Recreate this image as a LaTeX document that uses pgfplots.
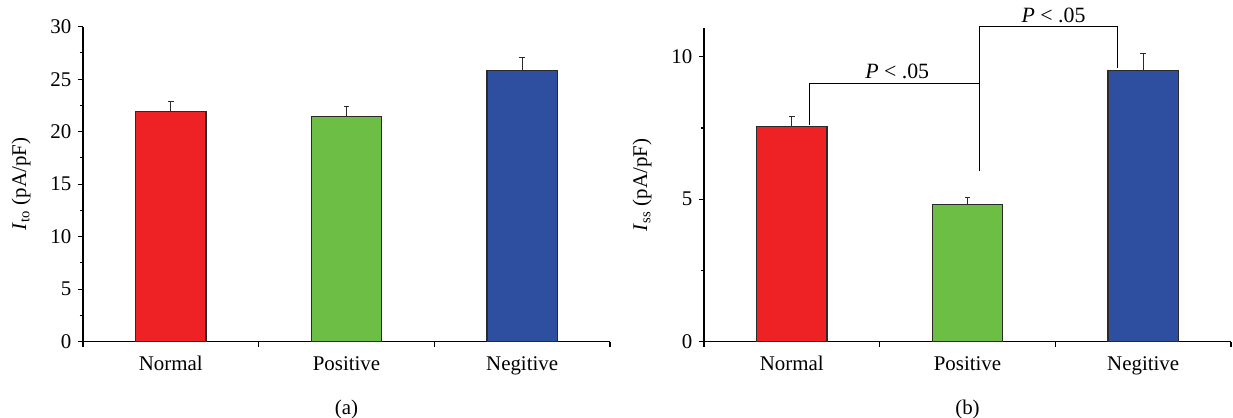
\documentclass[border=0pt]{standalone}
\usepackage{pgfplots}
\pgfplotsset{compat=1.18}
\usepackage{fontspec}
\setmainfont{Liberation Serif}
\definecolor{cred}{HTML}{EE2224}
\definecolor{cgreen}{HTML}{6DBE45}
\definecolor{cblue}{HTML}{2E4E9F}
\definecolor{cedge}{HTML}{2A2A2A}
\pgfplotsset{
  mybar/.style={
    scale only axis,
    width=289.85pt,
    axis x line*=bottom,
    axis y line*=left,
    axis line style={line width=0.7pt,black},
    tick style={line width=0.6pt,black},
    tick align=outside,
    major tick length=2.9pt,
    minor tick length=1.8pt,
    xmin=-0.5,xmax=2.5,
    xtick={-0.5,0.5,1.5,2.5},
    xticklabels={},
    extra x ticks={0,1,2},
    extra x tick labels={Normal,Positive,Negitive},
    extra x tick style={major tick length=0pt, tick style={draw=none}},
    x tick label style={yshift=-4.5pt},
    ymin=0,
    minor y tick num=1,
    /pgf/number format/assume math mode=true,
    tick label style={font=\fontsize{11.5}{13}\selectfont},
    label style={font=\fontsize{11.5}{13}\selectfont},
    xlabel style={yshift=-4pt},
    ylabel style={yshift=4pt},
    every axis plot/.append style={ybar, bar width=0.40, draw=cedge, line width=0.6pt},
    error bars/y dir=plus,
    error bars/y explicit,
    error bars/error bar style={line width=0.6pt, cedge},
    error bars/error mark options={line width=0.6pt, cedge, mark size=1.5pt, rotate=90},
    clip=false,
  }
}
\begin{document}
\begin{tikzpicture}
\useasboundingbox (-45.65pt,-41.965pt) rectangle (632.5pt,187.935pt);
% panel a
\begin{axis}[mybar,
  height=173.25pt,
  ymax=30,
  ytick={0,5,10,15,20,25,30},
  ylabel={\textit{I}\textsubscript{to} (pA/pF)},
  xlabel={(a)},
]
\addplot[fill=cred] coordinates {(0,21.96) +- (0,0.92)};
\addplot[fill=cgreen] coordinates {(1,21.45) +- (0,0.98)};
\addplot[fill=cblue] coordinates {(2,25.85) +- (0,1.19)};
\end{axis}
% panel b
\begin{axis}[mybar,
  at={(341.55pt,0pt)},
  height=172.37pt,
  ymax=11,
  ytick={0,5,10},
  ylabel={\textit{I}\textsubscript{ss} (pA/pF)},
  xlabel={(b)},
]
\addplot[fill=cred] coordinates {(0,7.54) +- (0,0.36)};
\addplot[fill=cgreen] coordinates {(1,4.80) +- (0,0.25)};
\addplot[fill=cblue] coordinates {(2,9.53) +- (0,0.60)};
\addplot[sharp plot, draw=black, line width=0.5pt, no markers, error bars/y dir=none]
  coordinates {(0.098,7.62) (0.098,9.07) (1.068,9.07)};
\addplot[sharp plot, draw=black, line width=0.5pt, no markers, error bars/y dir=none]
  coordinates {(1.068,6.0) (1.068,11.05) (1.854,11.05) (1.854,9.62)};
\node[above, font=\fontsize{12}{13}\selectfont, inner sep=2pt] at (axis cs:0.60,9.07) {\textit{P} < .05};
\node[above, font=\fontsize{12}{13}\selectfont, inner sep=2pt] at (axis cs:1.49,11.05) {\textit{P} < .05};
\end{axis}
\end{tikzpicture}
\end{document}
